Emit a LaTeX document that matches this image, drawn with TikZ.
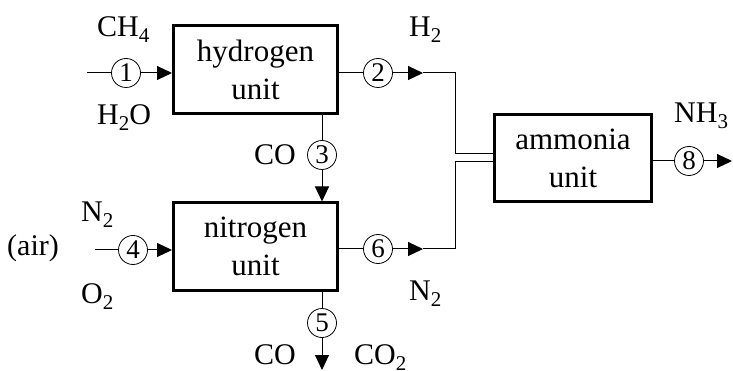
\documentclass[tikz,border=0pt]{standalone}
\usepackage{fontspec}
\setmainfont{Liberation Serif}
\usetikzlibrary{arrows.meta}
\newcommand{\chsub}[1]{\raisebox{-6pt}{\fontsize{21}{21}\selectfont #1}}

\begin{document}
\begin{tikzpicture}[x=1pt,y=-1pt,
    unitbox/.style={draw,line width=3pt,align=center,inner sep=0pt,font=\fontsize{31}{38}\selectfont},
    streamno/.style={draw,circle,line width=0.8pt,minimum size=29pt,inner sep=0pt,font=\fontsize{27}{27}\selectfont},
    lbl/.style={anchor=base west,inner sep=0pt,font=\fontsize{30}{30}\selectfont},
    flow/.style={line width=1pt},
    >={Triangle[length=15pt,width=14pt]}]
   \useasboundingbox (0,0) rectangle (733,371);
   \node[unitbox,minimum width=164pt,minimum height=88pt] (hyd) at (255.5,69.5) {hydrogen\\unit};
   \node[unitbox,minimum width=164pt,minimum height=87pt] (nit) at (255.5,246.5) {nitrogen\\unit};
   \node[unitbox,minimum width=157pt,minimum height=87pt] (amm) at (573,158) {ammonia\\unit};
   \node[streamno] (s1) at (126,73) {1};
   \node[streamno] (s2) at (378,73) {2};
   \node[streamno] (s3) at (322,155) {3};
   \node[streamno] (s4) at (133,250) {4};
   \node[streamno] (s5) at (322,323) {5};
   \node[streamno] (s6) at (378,249) {6};
   \node[streamno] (s8) at (689,161) {8};
   \coordinate (in1) at (87,73);
   \coordinate (in4) at (95,250);
   \coordinate (t2) at (423,73);
   \coordinate (t6) at (423,249);
   \coordinate (m2) at (455,154);
   \coordinate (m6) at (455,162);
   \coordinate (out5) at (322,370);
   \coordinate (out8) at (732,161);
   \draw[flow] (in1) -- (s1);
   \draw[flow,->] (s1) -- (s1 -| hyd.west);
   \draw[flow] (hyd.east |- s2) -- (s2);
   \draw[flow,->] (s2) -- (t2);
   \draw[flow] (t2) -| (m2) -- (m2 -| amm.west);
   \draw[flow] (s3 |- hyd.south) -- (s3);
   \draw[flow,->] (s3) -- (s3 |- nit.north);
   \draw[flow] (in4) -- (s4);
   \draw[flow,->] (s4) -- (s4 -| nit.west);
   \draw[flow] (s5 |- nit.south) -- (s5);
   \draw[flow,->] (s5) -- (out5);
   \draw[flow] (nit.east |- s6) -- (s6);
   \draw[flow,->] (s6) -- (t6);
   \draw[flow] (t6) -| (m6) -- (m6 -| amm.west);
   \draw[flow] (amm.east |- s8) -- (s8);
   \draw[flow,->] (s8) -- (out8);
   \node[lbl] (ch4) at (97,37) {CH\chsub{4}};
   \node[lbl] (h2o) at (97,125) {H\chsub{2}O};
   \node[lbl] (co3) at (254,165) {CO};
   \node[lbl] (n2in) at (81,222) {N\chsub{2}};
   \node[lbl] (o2) at (81,303) {O\chsub{2}};
   \node[lbl] (air) at (7,256) {(air)};
   \node[lbl] (co5) at (254,364) {CO};
   \node[lbl] (co2) at (354,364) {CO\chsub{2}};
   \node[lbl] (h2) at (409,37) {H\chsub{2}};
   \node[lbl] (n2) at (409,300) {N\chsub{2}};
   \node[lbl] (nh3) at (674,123) {NH\chsub{3}};
\end{tikzpicture}
\end{document}
